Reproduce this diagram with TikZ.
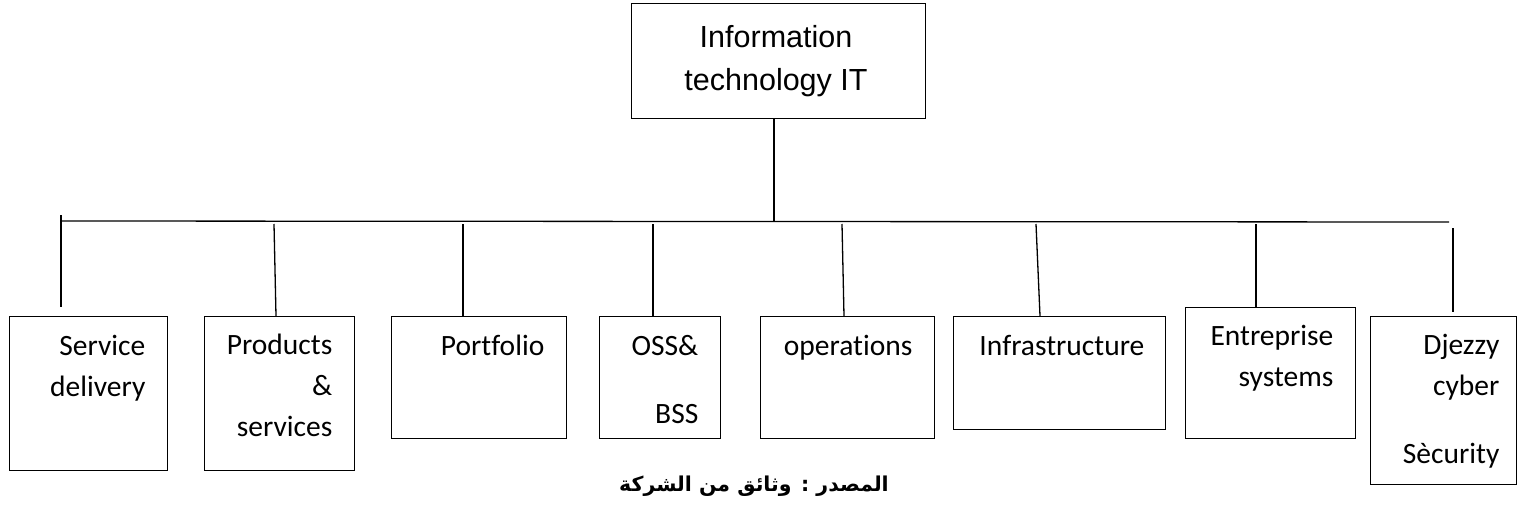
\documentclass[tikz,border=0pt]{standalone}
\usepackage{fontspec}
\TeXXeTstate=1
\newfontfamily\gillfont[Ligatures={NoCommon}]{Carlito}
\newfontfamily\headfont{Liberation Sans}
\newfontfamily\arabicfont[Script=Arabic]{DejaVu Sans}
\begin{document}
\begin{tikzpicture}[x=1pt,y=-1pt,
  line width=1.3pt,
  box/.style={draw, inner sep=0pt, anchor=north west},
  lbl/.style={font=\gillfont\fontsize{29.5}{41}\selectfont, inner sep=0pt, align=right, anchor=base east},
  headlbl/.style={font=\headfont\fontsize{30.5}{43}\selectfont, inner sep=0pt, align=center, anchor=base},
  wire/.style={line width=1.3pt}]
\useasboundingbox (0,0) rectangle (1517,511);

% head of the chart (labels are placed by the baseline of their last line)
\node[box, minimum width=294pt, minimum height=115pt] (top) at (631,3) {};
\node[headlbl] (toptext) at (776,90) {Information\\technology IT};

% departments
\node[box, minimum width=158pt, minimum height=154pt] (b1) at (9,316) {};
\node[box, minimum width=150pt, minimum height=154pt] (b2) at (204,316) {};
\node[box, minimum width=175pt, minimum height=122pt] (b3) at (391,316) {};
\node[box, minimum width=121pt, minimum height=122pt] (b4) at (599,316) {};
\node[box, minimum width=174pt, minimum height=122pt] (b5) at (760,316) {};
\node[box, minimum width=212pt, minimum height=113pt] (b6) at (953,316) {};
\node[box, minimum width=170pt, minimum height=131pt] (b7) at (1185,307) {};
\node[box, minimum width=146pt, minimum height=168pt] (b8) at (1370,316) {};

\node[lbl] (l1) at (146,396) {Service\\delivery};
\node[lbl] (l2) at (333,436) {Products\\\&\\services};
\node[lbl] (l3) at (545,355) {Portfolio};
\node[lbl] (l4) at (699,423) {OSS\&\\[27pt]BSS};
\node[lbl] (l5) at (913,355) {operations};
\node[lbl] (l6) at (1145,355) {Infrastructure};
\node[lbl] (l7) at (1334,386) {Entreprise\\systems};
\node[lbl] (l8) at (1500,463) {Djezzy\\cyber\\[27pt]Sècurity};

% connector coordinates
\coordinate (c0) at (774,118);
\coordinate (hub) at (774,221.5);
\coordinate (barL) at (60,221);
\coordinate (barR) at (1449,222);
\coordinate (t1) at (61,215);   \coordinate (e1) at (61,307);
\coordinate (t2) at (274,224);  \coordinate (e2) at (276,316);
\coordinate (t3) at (463,224);  \coordinate (e3) at (463,316);
\coordinate (t4) at (653,224);  \coordinate (e4) at (653,316);
\coordinate (t5) at (842,224);  \coordinate (e5) at (844,316);
\coordinate (t6) at (1036,224); \coordinate (e6) at (1040,316);
\coordinate (t7) at (1256,224); \coordinate (e7) at (1256,307);
\coordinate (t8) at (1453,228); \coordinate (e8) at (1453,312);

\draw[wire] (c0) -- (hub);
\draw[wire] (barL) -- (barR);
\foreach \i in {1,...,8} { \draw[wire] (t\i) -- (e\i); }

% source line
\node[font=\arabicfont\bfseries\fontsize{20.5}{24}\selectfont, inner sep=0pt, anchor=base] (src) at (754,491)
  {\beginR المصدر : وثائق من الشركة\endR};
\end{tikzpicture}
\end{document}
